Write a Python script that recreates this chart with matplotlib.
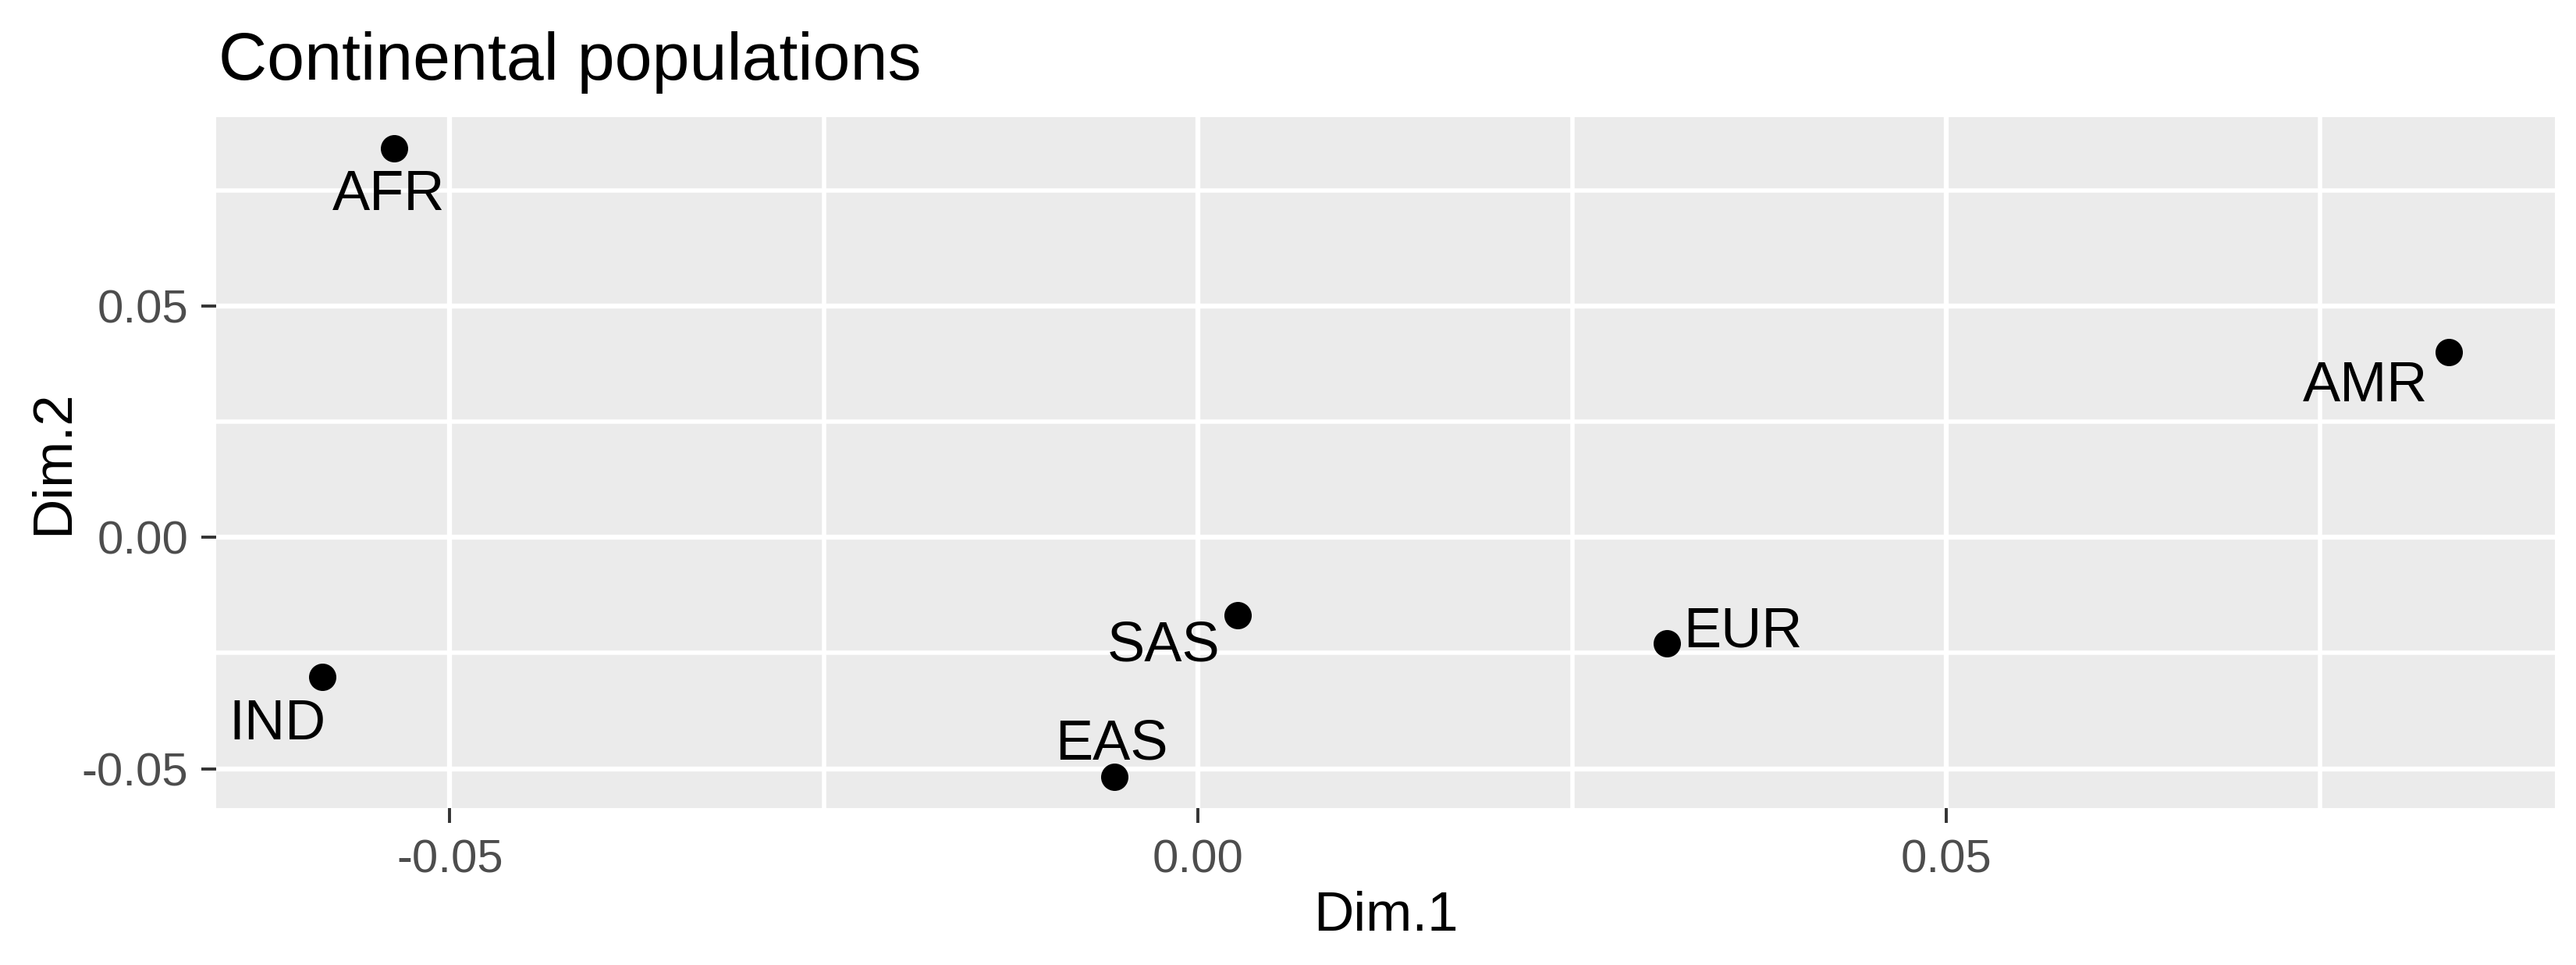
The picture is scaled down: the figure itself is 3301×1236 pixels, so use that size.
import matplotlib
matplotlib.use("Agg")
import matplotlib.pyplot as plt
from matplotlib.ticker import MultipleLocator, FormatStrFormatter

plt.rcParams['font.family'] = ['Liberation Sans', 'DejaVu Sans']
plt.rcParams['axes.unicode_minus'] = False

# MDS coordinates
pops = ["AFR", "IND", "SAS", "EUR", "EAS", "AMR"]
dim1 = [-0.0537, -0.0585, 0.00266, 0.03135, -0.00557, 0.08357]
dim2 = [0.0840, -0.0301, -0.01684, -0.02296, -0.0517, 0.0401]

# label offsets (points) from each dot, like ggrepel placed them
label_dx = [-2.5, -20.7, -34.2, 34.9, -1.4, -38.5]
label_dy = [-28.4, -28.8, -20.9, -1.4, 7.9, -22.7]

fig = plt.figure(figsize=(16.505, 6.18), dpi=200)
ax = fig.add_axes([277/3301, 1 - 1035/1236, (3274-277)/3301, (1035-150)/1236])

ax.set_facecolor("#EBEBEB")
for s in ax.spines.values():
    s.set_visible(False)

ax.scatter(dim1, dim2, s=159, color="black", zorder=3, linewidths=0)
for name, x, y, dx, dy in zip(pops, dim1, dim2, label_dx, label_dy):
    ax.annotate(name, (x, y), xytext=(dx, dy), textcoords="offset points",
                ha="center", va="baseline", fontsize=26, color="black", zorder=4)

ax.margins(0.05)

ax.xaxis.set_major_locator(MultipleLocator(0.05))
ax.xaxis.set_minor_locator(MultipleLocator(0.025))
ax.yaxis.set_major_locator(MultipleLocator(0.05))
ax.yaxis.set_minor_locator(MultipleLocator(0.025))
ax.xaxis.set_major_formatter(FormatStrFormatter("%.2f"))
ax.yaxis.set_major_formatter(FormatStrFormatter("%.2f"))

ax.grid(which="major", color="white", linewidth=2.3)
ax.grid(which="minor", color="white", linewidth=2.0)
ax.set_axisbelow(True)

ax.tick_params(which="major", length=6.8, width=1.4, color="#333333",
               labelsize=21.5, labelcolor="#4D4D4D")
ax.tick_params(axis="x", which="major", pad=7.5)
ax.tick_params(axis="y", which="major", pad=6)
ax.tick_params(which="minor", length=0)

ax.set_xlabel("Dim.1", fontsize=25.6, va="baseline")
ax.xaxis.set_label_coords(0.5, (1035 - 1192) / 885)
ax.set_ylabel("Dim.2", fontsize=25.6, rotation=90, rotation_mode="anchor",
              ha="center", va="baseline")
ax.yaxis.set_label_coords((87 - 277) / 2997, 0.5)

fig.text(280/3301, 1 - 102/1236, "Continental populations", fontsize=31,
         ha="left", va="baseline", color="black")

fig.savefig("out.png", dpi=200, facecolor="white")
